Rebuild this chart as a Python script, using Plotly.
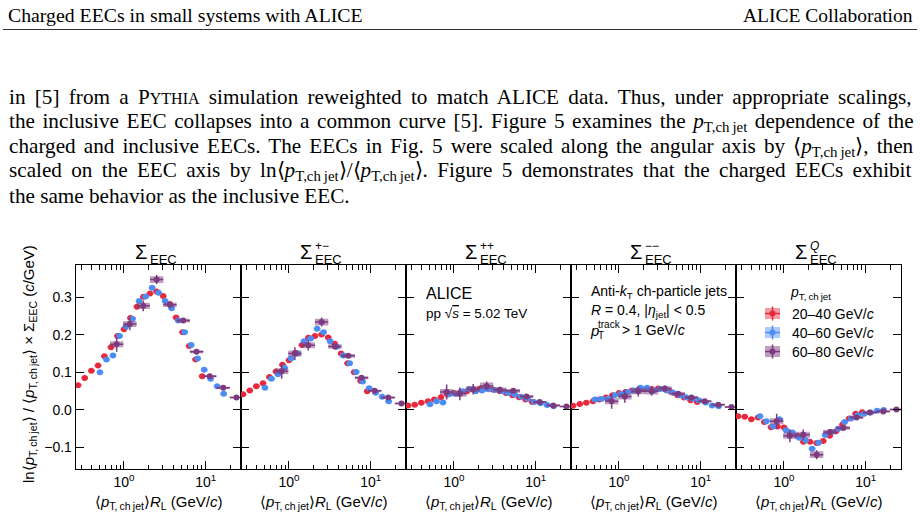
import plotly.graph_objects as go

W, H = 920, 518

# ---------------- data ----------------
X_20_40 = [0.274, 0.331, 0.398, 0.481, 0.575, 0.693, 0.832, 1.00, 1.20, 1.44,
           1.73, 2.08, 2.51, 3.02, 3.63, 4.34, 5.21, 6.27, 7.53, 9.06]
X_40_60 = [0.508, 0.610, 0.733, 0.881, 1.06, 1.27, 1.53, 1.84, 2.21, 2.65,
           3.19, 3.83, 4.60, 5.53, 6.64, 7.98, 9.59, 11.5, 13.8, 16.6]
X_60_80 = [0.813, 1.18, 1.72, 2.51, 3.65, 5.31, 7.73, 11.2, 16.4, 23.8]

# Sigma_EEC
EEC_20_40 = [0.066, 0.085, 0.104, 0.118, 0.143, 0.167, 0.197, 0.215, 0.245, 0.275,
             0.301, 0.310, 0.315, 0.303, 0.282, 0.246, 0.207, 0.170, 0.134, 0.090]
EEC_40_60 = [0.100, 0.134, 0.145, 0.197, 0.222, 0.243, 0.290, 0.302, 0.325, 0.312,
             0.290, 0.271, 0.238, 0.207, 0.173, 0.137, 0.107, 0.083, 0.063, 0.043]
EEC_60_80 = [0.175, 0.229, 0.277, 0.347, 0.280, 0.238, 0.155, 0.090, 0.059, 0.033]
# Sigma_EEC +-
PM_20_40 = [0.042, 0.052, 0.063, 0.071, 0.088, 0.102, 0.120, 0.132, 0.152, 0.173,
            0.192, 0.197, 0.201, 0.193, 0.176, 0.150, 0.124, 0.100, 0.077, 0.050]
PM_40_60 = [0.059, 0.083, 0.095, 0.112, 0.137, 0.150, 0.183, 0.190, 0.216, 0.207,
            0.183, 0.168, 0.145, 0.124, 0.101, 0.076, 0.058, 0.046, 0.035, 0.023]
PM_60_80 = [0.103, 0.150, 0.172, 0.234, 0.169, 0.144, 0.086, 0.051, 0.033, 0.017]
# Sigma_EEC ++
PP_20_40 = [0.012, 0.014, 0.019, 0.023, 0.028, 0.034, 0.041, 0.045, 0.048, 0.050,
            0.054, 0.057, 0.057, 0.054, 0.050, 0.045, 0.039, 0.034, 0.028, 0.021]
PP_40_60 = [0.015, 0.023, 0.020, 0.042, 0.043, 0.050, 0.056, 0.050, 0.052, 0.055,
            0.053, 0.050, 0.045, 0.041, 0.035, 0.030, 0.021, 0.018, 0.013, 0.010]
PP_60_80 = [0.048, 0.043, 0.055, 0.064, 0.054, 0.051, 0.036, 0.021, 0.012, 0.009]
# Sigma_EEC --
MM_20_40 = [0.011, 0.016, 0.019, 0.023, 0.028, 0.033, 0.039, 0.045, 0.048, 0.052,
            0.054, 0.055, 0.056, 0.057, 0.055, 0.048, 0.039, 0.033, 0.026, 0.021]
MM_40_60 = [0.028, 0.029, 0.030, 0.039, 0.043, 0.048, 0.052, 0.059, 0.059, 0.052,
            0.056, 0.052, 0.046, 0.039, 0.034, 0.030, 0.025, 0.020, 0.012, 0.010]
MM_60_80 = [0.023, 0.036, 0.050, 0.050, 0.057, 0.043, 0.033, 0.023, 0.014, 0.008]
# Sigma_EEC Q
Q_20_40 = [-0.017, -0.018, -0.025, -0.020, -0.032, -0.046, -0.044, -0.047, -0.061, -0.069,
           -0.085, -0.085, -0.088, -0.083, -0.069, -0.057, -0.039, -0.023, -0.010, -0.006]
Q_40_60 = [-0.017, -0.030, -0.044, -0.025, -0.054, -0.060, -0.074, -0.081, -0.103, -0.087,
           -0.067, -0.059, -0.050, -0.032, -0.023, -0.014, -0.010, -0.007, -0.002, 0.000]
Q_60_80 = [-0.030, -0.069, -0.066, -0.119, -0.059, -0.048, -0.020, -0.007, -0.004, 0.001]

# uncertainties
STAT_60_80 = [0.020, 0.017, 0.014, 0.012, 0.008, 0.005, 0.004, 0.003, 0.003, 0.002]
SYS_60_80 = [0.008, 0.008, 0.008, 0.009, 0.006, 0.005, 0.004, 0.003, 0.003, 0.002]
STAT_20_40 = 0.003
SYS_20_40 = 0.004
STAT_40_60 = 0.004
SYS_40_60 = 0.005
HALF_BIN_LOG_NARROW = 0.04   # half bin width (decades) for 20-40 and 40-60
HALF_BIN_LOG_WIDE = 0.0815   # for 60-80

PANEL_DATA = [
    (EEC_20_40, EEC_40_60, EEC_60_80),
    (PM_20_40, PM_40_60, PM_60_80),
    (PP_20_40, PP_40_60, PP_60_80),
    (MM_20_40, MM_40_60, MM_60_80),
    (Q_20_40, Q_40_60, Q_60_80),
]
SERIES_LABELS = ["20\u201340 GeV/<i>c</i>", "40\u201360 GeV/<i>c</i>", "60\u201380 GeV/<i>c</i>"]
Y_TICKS = [-0.1, 0.0, 0.1, 0.2, 0.3]
Y_TICKTEXT = ["\u22120.1", "0.0", "0.1", "0.2", "0.3"]
X_TICKS = [1, 10]
X_TICKTEXT = ["10<sup>0</sup>", "10<sup>1</sup>"]
X_MINOR = [0.3, 0.4, 0.5, 0.6, 0.7, 0.8, 0.9, 2, 3, 4, 5, 6, 7, 8, 9, 20]

# ---------------- style ----------------
COLORS = ["#E8293B", "#4C8CF5", "#7D3B7F"]
FILLS = ["rgba(232,41,59,0.45)", "rgba(76,140,245,0.45)", "rgba(125,59,127,0.5)"]
SANS = "Liberation Sans"
SERIF = "Liberation Serif"

def fx(p):
    return p / W

def fy(p):
    return 1 - p / H

LEFTS = [75.8, 240.8, 405.8, 570.8, 735.8]
PW = 165.0
TOP, BOT = 265.3, 469.3

fig = go.Figure()

def add_series(xs, ys, stat, sys, half, color, fill, ax, ay):
    f = 10 ** half
    bx, by = [], []
    for x, y, s in zip(xs, ys, sys):
        bx += [x / f, x * f, x * f, x / f, x / f, None]
        by += [y - s, y - s, y + s, y + s, y - s, None]
    fig.add_trace(go.Scatter(x=bx, y=by, mode="lines", fill="toself", fillcolor=fill,
                             line=dict(width=0), hoverinfo="skip", showlegend=False,
                             xaxis=ax, yaxis=ay))
    fig.add_trace(go.Scatter(
        x=xs, y=ys, mode="markers", marker=dict(size=6, color=color),
        error_x=dict(type="data", symmetric=False,
                     array=[x * (f - 1) for x in xs],
                     arrayminus=[x * (1 - 1 / f) for x in xs],
                     thickness=1.5, width=0, color=color),
        error_y=dict(type="data", array=stat, thickness=1.5, width=0, color=color),
        showlegend=False, xaxis=ax, yaxis=ay))

for i, (r, b, p) in enumerate(PANEL_DATA):
    ax = "x" if i == 0 else f"x{i+1}"
    ay = "y" if i == 0 else f"y{i+1}"
    add_series(X_20_40, r, [STAT_20_40] * len(r), [SYS_20_40] * len(r),
               HALF_BIN_LOG_NARROW, COLORS[0], FILLS[0], ax, ay)
    add_series(X_40_60, b, [STAT_40_60] * len(b), [SYS_40_60] * len(b),
               HALF_BIN_LOG_NARROW, COLORS[1], FILLS[1], ax, ay)
    add_series(X_60_80, p, STAT_60_80, SYS_60_80,
               HALF_BIN_LOG_WIDE, COLORS[2], FILLS[2], ax, ay)

    xa = dict(type="log", range=[-0.59, 1.43],
              domain=[fx(LEFTS[i]), fx(LEFTS[i] + PW)],
              anchor=ay, showline=True, linecolor="black", linewidth=1.2,
              mirror="ticks", ticks="inside", ticklen=8, tickwidth=1.2,
              tickcolor="black",
              tickmode="array", tickvals=X_TICKS, ticktext=X_TICKTEXT,
              minor=dict(tickmode="array", tickvals=X_MINOR, ticks="inside",
                         ticklen=4.5, tickwidth=1.1, tickcolor="black", showgrid=False),
              tickfont=dict(family=SANS, size=14, color="black"),
              showgrid=False, zeroline=False)
    ya = dict(range=[-0.158, 0.385], domain=[fy(BOT), fy(TOP)], anchor=ax,
              showline=True, linecolor="black", linewidth=1.2, mirror="ticks",
              ticks="inside", ticklen=8, tickwidth=1.2, tickcolor="black",
              tickmode="array", tickvals=Y_TICKS, ticktext=Y_TICKTEXT,
              showticklabels=(i == 0),
              tickfont=dict(family=SANS, size=14, color="black"),
              showgrid=False, zeroline=False)
    fig.layout["xaxis" if i == 0 else f"xaxis{i+1}"] = xa
    fig.layout["yaxis" if i == 0 else f"yaxis{i+1}"] = ya

ann = []
def A(x, y, text, size, family=SANS, xanchor="center", yanchor="middle", angle=0):
    ann.append(dict(x=fx(x), y=fy(y), xref="paper", yref="paper", text=text,
                    showarrow=False, xanchor=xanchor, yanchor=yanchor,
                    textangle=angle, font=dict(family=family, size=size, color="black")))

# page header
A(6, 15, "Charged EECs in small systems with ALICE", 19.8, SERIF, "left")
A(915, 15, "ALICE Collaboration", 19.5, SERIF, "right")

PT = "<i>p</i><sub>T,ch\u2009jet</sub>"
LINES = [
    "in [5] from a P<span style='font-size:16px'>YTHIA</span> simulation reweighted to match ALICE data. Thus, under appropriate scalings,",
    "the inclusive EEC collapses into a common curve [5]. Figure 5 examines the " + PT + " dependence of the",
    "charged and inclusive EECs. The EECs in Fig. 5 were scaled along the angular axis by \u27e8" + PT + "\u27e9, then",
    "scaled on the EEC axis by ln\u27e8" + PT + "\u27e9/\u27e8" + PT + "\u27e9. Figure 5 demonstrates that the charged EECs exhibit",
    "the same behavior as the inclusive EEC.",
]
WORD_SPACING = [4.0, 2.3, 2.8, 4.0, 0.0]
for k, line in enumerate(LINES):
    A(7, 97 + 24.8 * k,
      "<span style='word-spacing:%.1fpx'>%s</span>" % (WORD_SPACING[k], line),
      21.2, SERIF, "left")

# panel titles
SUPS = ["", "+\u2212", "++", "\u2212\u2212", "<i>Q</i>"]
for i, s in enumerate(SUPS):
    c = LEFTS[i] + PW / 2
    A(c - 9.5, 252, "\u03a3", 20, SANS, "right")
    A(c - 10.5, 259, "EEC", 13, SANS, "left")
    if s:
        A(c - 10.5, 246, s, 12, SANS, "left")
    # x title
    A(c, 502, "\u27e8<i>p</i><sub>T,\u2009ch\u2009jet</sub>\u27e9<i>R</i><sub>L</sub> (GeV/<i>c</i>)",
      15, SANS)

# y title
A(29, 364, "ln\u27e8<i>p</i><sub>T,\u2009ch\u2009jet</sub>\u27e9 / \u27e8<i>p</i><sub>T,\u2009ch\u2009jet</sub>\u27e9 \u00d7 \u03a3<sub>EEC</sub> (<i>c</i>/GeV)",
  15, SANS, angle=-90)

# panel 3 text
A(424, 293, "ALICE", 16, SANS, "left")
A(424, 313, "pp \u221a<span style='text-decoration:overline'><i>s</i></span> = 5.02 TeV", 13.5, SANS, "left")
# panel 4 text
A(589, 292, "Anti-<i>k</i><sub>T</sub> ch-particle jets", 14, SANS, "left")
A(589, 311, "<i>R</i> = 0.4, |<i>\u03b7</i><sub>jet</sub>| < 0.5", 14, SANS, "left")
A(588, 330, "<i>p</i>", 15, SANS, "left")
A(596, 324.5, "track", 10, SANS, "left")
A(596, 335, "T", 10, SANS, "left")
A(620, 330, "> 1 GeV/<i>c</i>", 14, SANS, "left")

# legend
A(810, 293, "<i>p</i><sub>T,\u2009ch\u2009jet</sub>", 14, SANS)
shapes = []
# header rule
shapes.append(dict(type="line", xref="paper", yref="paper", x0=fx(3), x1=fx(917),
                   y0=fy(29.5), y1=fy(29.5), line=dict(color="#333", width=1.2)))
for k in range(3):
    cy = 313.5 + 19 * k
    cx = 772.5
    shapes.append(dict(type="rect", xref="paper", yref="paper", x0=fx(cx - 7.5), x1=fx(cx + 7.5),
                       y0=fy(cy + 5.5), y1=fy(cy - 5.5), fillcolor=FILLS[k], line=dict(width=0)))
    shapes.append(dict(type="line", xref="paper", yref="paper", x0=fx(cx - 7.5), x1=fx(cx + 7.5),
                       y0=fy(cy), y1=fy(cy), line=dict(color=COLORS[k], width=1.5)))
    shapes.append(dict(type="line", xref="paper", yref="paper", x0=fx(cx), x1=fx(cx),
                       y0=fy(cy + 7), y1=fy(cy - 7), line=dict(color=COLORS[k], width=1.5)))
    shapes.append(dict(type="circle", xref="paper", yref="paper", x0=fx(cx - 3), x1=fx(cx + 3),
                       y0=fy(cy + 3), y1=fy(cy - 3), fillcolor=COLORS[k], line=dict(width=0)))
    A(790, cy, SERIES_LABELS[k], 14, SANS, "left")

fig.update_layout(width=W, height=H, margin=dict(l=0, r=0, t=0, b=0),
                  paper_bgcolor="white", plot_bgcolor="white",
                  annotations=ann, shapes=shapes, showlegend=False)

fig.write_html("out.html")
